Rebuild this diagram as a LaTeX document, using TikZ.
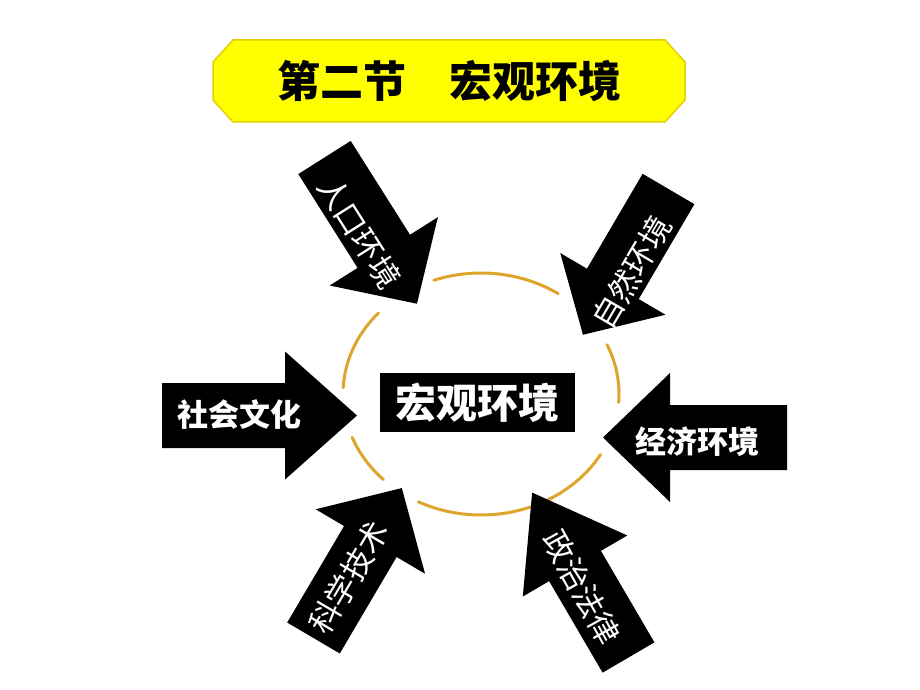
\documentclass[tikz,border=0pt]{standalone}
\usepackage{fontspec}
\setmainfont{Liberation Sans}
\newfontfamily\cjk{Noto Sans CJK SC}
\definecolor{ringcol}{HTML}{DDA52C}
\definecolor{titlefill}{HTML}{FFFF00}
\definecolor{titleedge}{HTML}{E6CF00}
\newcommand\blockarrow[7]{%
  \fill[black, shift={(#1,#2)}, rotate=#3]
    (0,-#5/2) -- (#4-#7,-#5/2) -- (#4-#7,-#6/2) -- (#4,0)
    -- (#4-#7,#6/2) -- (#4-#7,#5/2) -- (0,#5/2) -- cycle;}
\tikzset{
  lblh/.style={text=white, inner sep=0pt, font=\cjk\bfseries\fontsize{31}{31}\selectfont},
  lbld/.style={text=white, inner sep=0pt, font=\cjk\fontsize{31}{31}\selectfont},
  corebox/.style={fill=black, text=white, minimum width=195pt, minimum height=59pt, inner sep=0pt,
    font=\cjk\bfseries\fontsize{41}{41}\selectfont},
  titletext/.style={text=black, inner sep=0pt, font=\cjk\bfseries\fontsize{43}{43}\selectfont},
  ringdash/.style={ringcol, line width=3pt, line cap=round}
}
\begin{document}
\begin{tikzpicture}[x=1pt,y=-1pt]
\fill[white] (0,0) rectangle (920,690);
\useasboundingbox (0,0) rectangle (920,690);
% title
\draw[fill=titlefill, draw=titleedge, line width=1.5pt]
  (233,40) -- (665,40) -- (685,62) -- (685,100) -- (665,122) -- (233,122) -- (213,100) -- (213,62) -- cycle;
\node[titletext] (title) at (449,81) {第二节　宏观环境};
% ring (dashed ellipse drawn as arcs)
\foreach \a/\b in {56/110, 138/177, 201/225, 243/291, 299/330, 356/384}
  \draw[ringdash] plot[domain=\a:\b, samples=30, smooth] ({481+138*cos(\x)},{394-121*sin(\x)});
% arrows
\blockarrow{162}{415.5}{0}{195}{65}{128}{72}
\blockarrow{787}{437.5}{180}{184}{65}{129}{67}
\blockarrow{324.5}{157.5}{-57.7}{173}{62}{128}{62}
\blockarrow{668.5}{189}{-120.4}{169}{60}{122}{59}
\blockarrow{313.5}{638}{59.5}{174}{61}{127}{62}
\blockarrow{628.5}{657.5}{120.3}{191}{60}{121}{85}
% labels
\node[lblh] (social) at (239,415) {社会文化};
\node[lblh] (econ) at (697,442) {经济环境};
\node[lbld, rotate=-57.7] (pop) at (359.5,232.5) {人口环境};
\node[lbld, rotate=59.6] (nature) at (631.5,272.5) {自然环境};
\node[lbld, rotate=59.5] (tech) at (349,577.5) {科学技术};
\node[lbld, rotate=-61] (law) at (581.5,587.5) {政治法律};
% centre
\node[corebox] (core) at (477.5,402.5) {宏观环境};
\end{tikzpicture}
\end{document}
